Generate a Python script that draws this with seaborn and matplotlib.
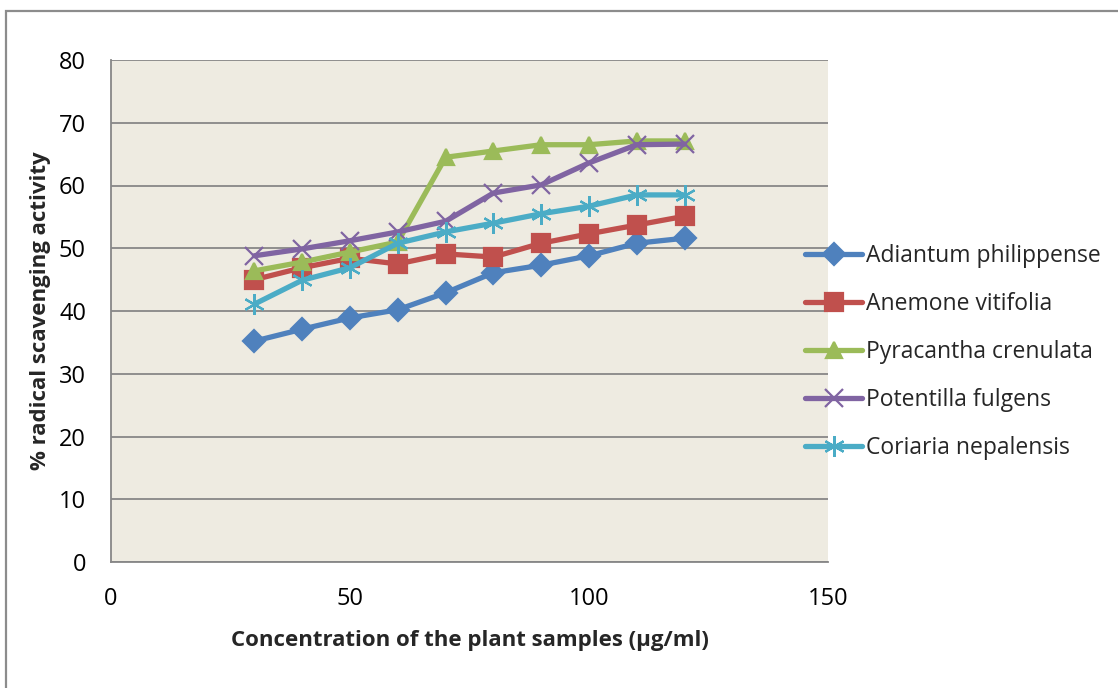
import matplotlib
matplotlib.use("Agg")
import matplotlib.pyplot as plt
import seaborn as sns
import pandas as pd
from matplotlib.patches import Rectangle

concentration = [30, 40, 50, 60, 70, 80, 90, 100, 110, 120]
adiantum = [35.2, 37.1, 38.9, 40.2, 42.9, 46.1, 47.3, 48.8, 50.8, 51.6]
anemone = [45.0, 46.9, 48.4, 47.5, 49.1, 48.6, 50.8, 52.3, 53.7, 55.1]
pyracantha = [46.4, 47.8, 49.4, 51.0, 64.5, 65.5, 66.5, 66.5, 67.1, 67.1]
potentilla = [48.8, 49.9, 51.2, 52.6, 54.3, 58.8, 60.1, 63.6, 66.5, 66.6]
coriaria = [41.1, 44.9, 46.9, 50.8, 52.6, 54.0, 55.5, 56.7, 58.5, 58.5]

series_names = ["Adiantum philippense", "Anemone vitifolia", "Pyracantha crenulata",
                "Potentilla fulgens", "Coriaria nepalensis"]
series_values = [adiantum, anemone, pyracantha, potentilla, coriaria]
colors = ["#4F81BD", "#C0504D", "#9BBB59", "#8064A2", "#4BACC6"]
markers = ["D", "s", "^", "x", (6, 2, 0)]
msizes = [11, 13, 12, 13, 15]

y_ticks = [0, 10, 20, 30, 40, 50, 60, 70, 80]
x_ticks = [0, 50, 100, 150]

sns.set_theme(style="white")
plt.rcParams['font.family'] = ['Open Sans', 'DejaVu Sans']

fig = plt.figure(figsize=(11.18, 6.88), dpi=100)
ax = fig.add_axes([111/1118, 1-562/688, (828-111)/1118, (562-60)/688])
ax.set_facecolor("#EEEBE1")

for name, vals, c, m, ms in zip(series_names, series_values, colors, markers, msizes):
    df = pd.DataFrame({"x": concentration, "y": vals})
    sns.lineplot(data=df, x="x", y="y", ax=ax, color=c, linewidth=3.8,
                 marker=m, markersize=ms, markeredgecolor=c, markerfacecolor=c,
                 markeredgewidth=1.6, label=name, zorder=3)

ax.set_xlim(0, 150)
ax.set_ylim(0, 80)
ax.set_xticks(x_ticks)
ax.set_yticks(y_ticks)
ax.yaxis.grid(True, color="#878787", linewidth=1.3)
ax.xaxis.grid(False)
for s in ["top", "right"]:
    ax.spines[s].set_visible(False)
for s in ["left", "bottom"]:
    ax.spines[s].set_color("#878787")
    ax.spines[s].set_linewidth(1.3)
ax.tick_params(axis="both", direction="out", length=6, width=1.3, color="#878787",
               labelsize=17, labelcolor="black")
ax.tick_params(axis="y", pad=12)
ax.tick_params(axis="x", pad=12)
ax.set_xlabel("Concentration of the plant samples (µg/ml)", fontsize=16,
              fontweight="bold", labelpad=14)
ax.set_ylabel("% radical scavenging activity", fontsize=16, fontweight="bold", labelpad=6)

leg = ax.legend(loc="center left", bbox_to_anchor=(796/1118, 1-352/688),
                bbox_transform=fig.transFigure, frameon=False, fontsize=16.5,
                handlelength=2.5, labelspacing=1.05, handletextpad=0.15, borderaxespad=0)

fig.patches.append(Rectangle((6/1118, -0.1), 1.2, 1 - 11/688 + 0.1, transform=fig.transFigure,
                             fill=False, edgecolor="#8C8C8C", linewidth=1.6))

fig.savefig("out.png", dpi=100, facecolor="white")
